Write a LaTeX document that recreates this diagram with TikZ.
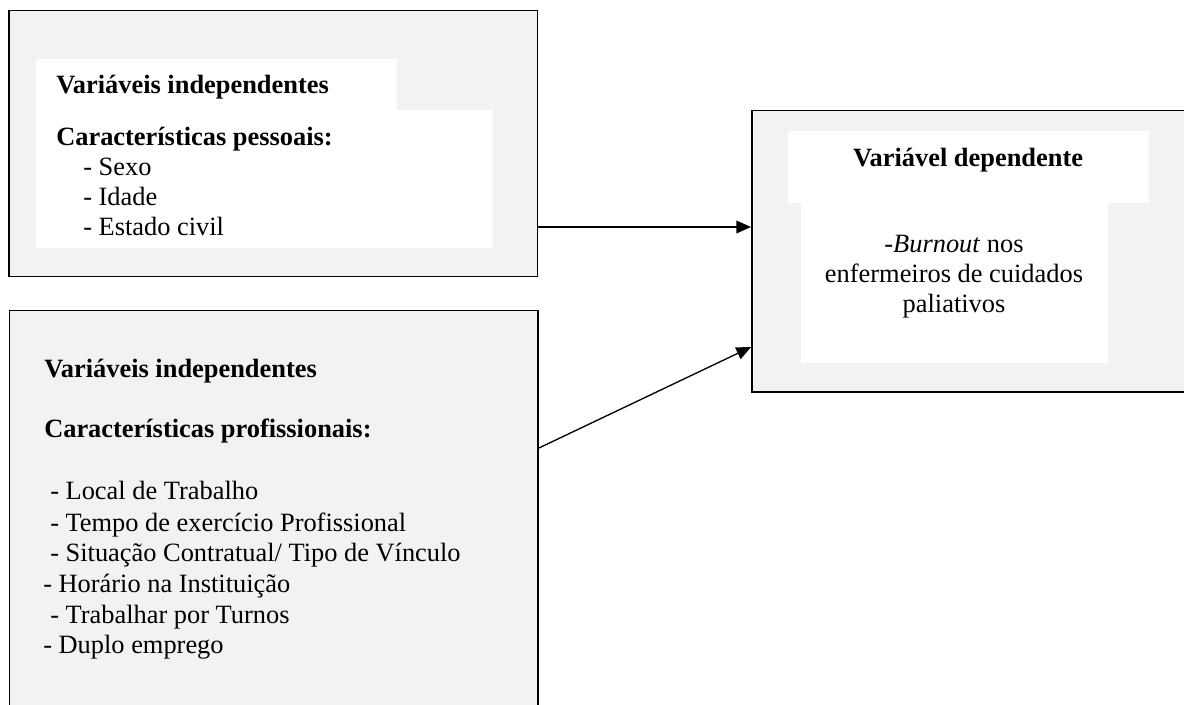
\documentclass[tikz,border=0pt]{standalone}
\usepackage{fontspec}
\setmainfont{Liberation Serif}
\usetikzlibrary{arrows.meta,fit}
\definecolor{boxgray}{HTML}{F2F2F2}
\tikzset{
  varbox/.style={draw=black, fill=boxgray, line width=1.4pt, inner sep=0pt},
  whitearea/.style={fill=white, draw=none},
  txt/.style={inner sep=0pt, anchor=base west, font=\fontsize{19.8}{22.5}\selectfont},
  ctxt/.style={inner sep=0pt, anchor=base, font=\fontsize{19.8}{22.5}\selectfont},
  conn/.style={line width=1pt, -{Triangle[length=11pt,width=9.5pt]}}
}
\begin{document}
\begin{tikzpicture}[x=0.75pt,y=-0.75pt]
\useasboundingbox (0,0) rectangle (1184,704);
\clip (0,0) rectangle (1184,704);
% boxes
\node[varbox, fit={(8.6,10.5) (537.5,276.5)}] (box1) {};
\node[varbox, fit={(9.5,310.5) (538,760)}] (box2) {};
\node[varbox, fit={(752,110.5) (1240,392)}] (box3) {};
% white areas
\fill[whitearea] (36,59) rectangle (397,110);
\fill[whitearea] (36,110) rectangle (493,248);
\fill[whitearea] (788,131) rectangle (1149,203);
\fill[whitearea] (801,203) rectangle (1108,363);
% box 1 text
\node[txt] (t1a) at (56,93) {\bfseries Variáveis independentes};
\node[txt] (t1b) at (56,145) {\bfseries Características pessoais:};
\node[txt] (t1c) at (83,175) {- Sexo};
\node[txt] (t1d) at (83,205) {- Idade};
\node[txt] (t1e) at (83,235) {- Estado civil};
% box 2 text
\node[txt] (t2a) at (44,377) {\bfseries Variáveis independentes};
\node[txt] (t2b) at (44,437) {\bfseries Características profissionais:};
\node[txt] (t2c) at (50,499) {- Local de Trabalho};
\node[txt] (t2d) at (50,531) {- Tempo de exercício Profissional};
\node[txt] (t2e) at (50,561) {- Situação Contratual/ Tipo de Vínculo};
\node[txt] (t2f) at (43,592) {- Horário na Instituição};
\node[txt] (t2g) at (50,623) {- Trabalhar por Turnos};
\node[txt] (t2h) at (43,653) {- Duplo emprego};
% box 3 text
\node[ctxt] (t3a) at (968,166) {\bfseries Variável dependente};
\node[ctxt] (t3b) at (954,252) {-\textit{Burnout} nos};
\node[ctxt] (t3c) at (954,282) {enfermeiros de cuidados};
\node[ctxt] (t3d) at (954,312) {paliativos};
% connectors
\draw[conn] (box1.east |- 0,227) -- (box3.west |- 0,227);
\draw[conn] (box2.east |- 0,448) -- (box3.west |- 0,347);
\end{tikzpicture}
\end{document}
